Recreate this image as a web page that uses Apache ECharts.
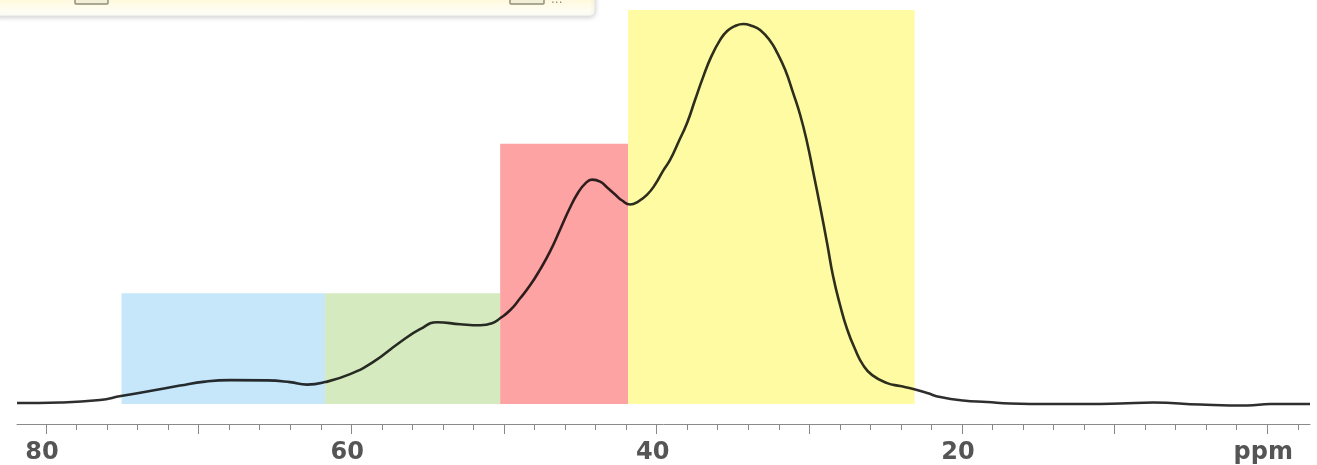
<!DOCTYPE html>
<html>
<head>
<meta charset="utf-8">
<script src="https://cdn.jsdelivr.net/npm/echarts@6/dist/echarts.min.js"></script>
<style>
html,body{margin:0;padding:0;background:#fff;}
#chart{width:1317px;height:465px;}
</style>
</head>
<body>
<div id="chart"></div>
<script>
// ---- data ----
const ppm = [81.9, 79.08, 76.46, 75.09, 73.19, 71.22, 69.58, 67.94, 65.52, 64.01, 62.9, 61.72, 60.08, 58.58, 56.81, 55.5, 54.38, 52.87, 51.56, 50.78, 50.25, 49.6, 48.94, 48.29, 47.63, 46.98, 46.32, 45.67, 45.14, 44.68, 44.23, 43.7, 43.24, 42.72, 42.26, 41.73, 41.21, 40.62, 40.1, 39.57, 39.11, 38.59, 38.0, 37.48, 36.95, 36.43, 35.84, 35.38, 34.86, 34.33, 33.74, 33.22, 32.56, 32.1, 31.58, 31.06, 30.6, 30.14, 29.75, 29.29, 28.83, 28.44, 27.98, 27.52, 27.0, 26.47, 25.88, 24.9, 24.05, 23.19, 22.28, 21.42, 19.92, 18.35, 16.84, 14.22, 11.79, 9.63, 7.47, 4.39, 1.31, -0.2, -2.62, -2.8];
const intensity = [1, 1.5, 4, 8, 13, 18.5, 22.5, 24, 23.7, 22, 19.5, 22, 30, 42, 62, 75, 82, 80, 79, 81, 86, 94, 106, 119, 135, 153, 175, 197, 212, 221, 225, 223, 217, 210, 204, 200, 203, 210, 220, 234, 245, 262, 282, 305, 328, 348, 365, 374, 379, 381, 379, 375, 364, 352, 335, 312, 290, 262, 233, 198, 161, 128, 99, 75, 55, 39, 29, 21, 18, 15, 11, 7, 3.5, 2, 0.5, 0, 0, 0.5, 1.5, -0.5, -1.5, 0, 0, 0];

const regionStart = [75.05, 61.72, 50.25, 41.87];
const regionEnd = [61.72, 50.25, 41.87, 23.1];
const regionTop = [111, 111, 261, 395];
const regionColors = ['#c6e7fa', '#d6eabf', '#fda3a3', '#fffba3'];

const minorTicks = [80, 78, 76, 74, 72, 70, 68, 66, 64, 62, 60, 58, 56, 54, 52, 50, 48, 46, 44, 42, 40, 38, 36, 34, 32, 30, 28, 26, 24, 22, 20, 18, 16, 14, 12, 10, 8, 6, 4, 2, 0, -2];
const majorTicks = [80, 70, 60, 50, 40, 30, 20, 10, 0];
const labelTicks = [80, 60, 40, 20, 0];
const labelTexts = ['80', '60', '40', '20', 'ppm'];

const xMin = -2.8, xMax = 81.9;
const yMin = -20, yMax = 395;

const spectrum = ppm.map((p, i) => [p, intensity[i]]);
const areas = regionStart.map((s, i) => [
  {coord: [s, 0], itemStyle: {color: regionColors[i], opacity: 1}},
  {coord: [regionEnd[i], regionTop[i]]}
]);

const chart = echarts.init(document.getElementById('chart'), null, {renderer: 'canvas'});

function baseAxis(extra) {
  return Object.assign({
    type: 'value', inverse: true, min: xMin, max: xMax, position: 'bottom',
    splitLine: {show: false}
  }, extra);
}

chart.setOption({
  animation: false,
  backgroundColor: '#ffffff',
  grid: {left: 17, right: 7, top: 10, bottom: 40, containLabel: false},
  xAxis: [
    baseAxis({
      axisLine: {show: true, onZero: false, lineStyle: {color: '#8a8a8a', width: 1}},
      axisTick: {show: true, customValues: minorTicks, length: 6, lineStyle: {color: '#888', width: 1}},
      axisLabel: {show: false}
    }),
    baseAxis({
      axisLine: {show: false, onZero: false},
      axisTick: {show: true, customValues: majorTicks, length: 10, lineStyle: {color: '#888', width: 1}},
      axisLabel: {
        show: true, customValues: labelTicks, margin: 17,
        fontFamily: 'DejaVu Sans', fontSize: 24, fontWeight: 'bold', color: '#555',
        padding: [0, 8, 0, 0],
        formatter: function (v) { const i = labelTicks.indexOf(v); return i >= 0 ? labelTexts[i] : ''; }
      }
    })
  ],
  yAxis: {type: 'value', min: yMin, max: yMax, show: false, splitLine: {show: false}},
  graphic: [
    {type: 'rect', shape: {x: -6, y: -8, width: 601, height: 24, r: 5}, z: 100,
      style: {fill: new echarts.graphic.LinearGradient(0, 0, 0, 1, [{offset: 0, color: '#fdf6c9'}, {offset: 0.5, color: '#fffbe6'}, {offset: 1, color: '#fffffb'}]),
        stroke: '#e4e4e4', lineWidth: 1, shadowBlur: 5, shadowColor: 'rgba(0,0,0,0.18)', shadowOffsetY: 1}},
    {type: 'rect', shape: {x: 75, y: -6, width: 33, height: 10, r: 1}, z: 101,
      style: {fill: '#f2efd6', stroke: '#8f8f78', lineWidth: 1.5}},
    {type: 'rect', shape: {x: 510, y: -6, width: 34, height: 10, r: 1}, z: 101,
      style: {fill: '#f2efd6', stroke: '#8f8f78', lineWidth: 1.5}},
    {type: 'text', x: 551, y: -6, z: 101, style: {text: '...', fill: '#888', fontSize: 12, fontFamily: 'DejaVu Sans'}}
  ],
  series: [{
    type: 'line',
    xAxisIndex: 0,
    data: spectrum,
    smooth: 0.5,
    showSymbol: false,
    lineStyle: {color: '#000', width: 2.6, opacity: 0.82},
    z: 3,
    markArea: {silent: true, data: areas, z: 1}
  }]
});
</script>
</body>
</html>
